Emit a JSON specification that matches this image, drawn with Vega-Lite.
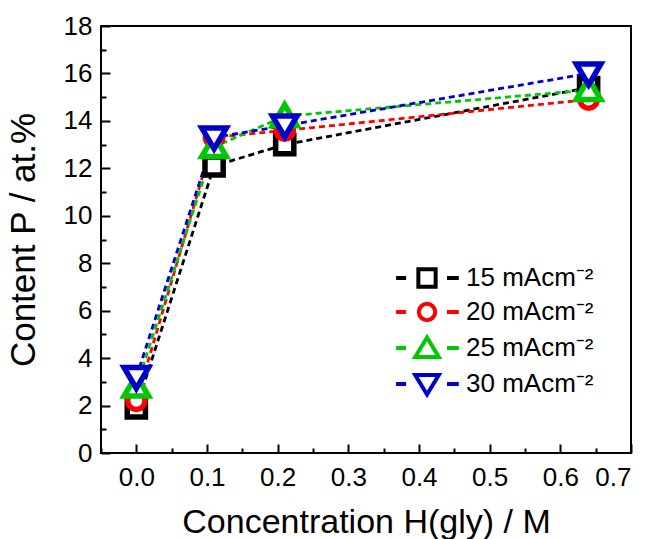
{
  "$schema": "https://vega.github.io/schema/vega-lite/v6.json",
  "width": 530,
  "height": 427,
  "autosize": {"type": "none"},
  "padding": {"left": 101, "top": 26, "right": 21, "bottom": 86},
  "background": "white",
  "config": {
    "view": {"stroke": "black", "strokeWidth": 2},
    "font": "Liberation Sans",
    "axis": {
      "domain": false,
      "tickColor": "black",
      "tickWidth": 2,
      "ticks": true,
      "grid": false,
      "labelColor": "black",
      "titleColor": "black",
      "labelFont": "Liberation Sans",
      "titleFont": "Liberation Sans",
      "titleFontWeight": "normal"
    }
  },
  "data": {
    "values": [
      {"x": 0.0, "y": 1.9, "series": "15 mAcm⁻²"},
      {"x": 0.11, "y": 12.1, "series": "15 mAcm⁻²"},
      {"x": 0.21, "y": 13.0, "series": "15 mAcm⁻²"},
      {"x": 0.64, "y": 15.4, "series": "15 mAcm⁻²"},
      {"x": 0.0, "y": 2.2, "series": "20 mAcm⁻²"},
      {"x": 0.11, "y": 13.3, "series": "20 mAcm⁻²"},
      {"x": 0.21, "y": 13.6, "series": "20 mAcm⁻²"},
      {"x": 0.64, "y": 14.9, "series": "20 mAcm⁻²"},
      {"x": 0.0, "y": 2.8, "series": "25 mAcm⁻²"},
      {"x": 0.11, "y": 12.9, "series": "25 mAcm⁻²"},
      {"x": 0.21, "y": 14.2, "series": "25 mAcm⁻²"},
      {"x": 0.64, "y": 15.3, "series": "25 mAcm⁻²"},
      {"x": 0.0, "y": 3.2, "series": "30 mAcm⁻²"},
      {"x": 0.11, "y": 13.3, "series": "30 mAcm⁻²"},
      {"x": 0.21, "y": 13.8, "series": "30 mAcm⁻²"},
      {"x": 0.64, "y": 16.0, "series": "30 mAcm⁻²"}
    ]
  },
  "encoding": {
    "x": {
      "field": "x", "type": "quantitative",
      "scale": {"domain": [-0.05, 0.7], "nice": false, "zero": false},
      "axis": {
        "title": "Concentration H(gly) / M",
        "values": [-0.05, 0, 0.05, 0.1, 0.15, 0.2, 0.25, 0.3, 0.35, 0.4, 0.45, 0.5, 0.55, 0.6, 0.65, 0.7],
        "labelExpr": "abs(round(datum.value*100)) % 10 == 0 ? format(datum.value, '.1f') : ''",
        "offset": -9,
        "tickSize": 9,
        "tickDash": {"condition": {"test": "abs(round(datum.value*100)) % 10 != 0", "value": [0, 4, 5, 20]}, "value": []},
        "labelFontSize": 26,
        "titleFontSize": 34,
        "labelPadding": 11,
        "titlePadding": 15
      }
    },
    "y": {
      "field": "y", "type": "quantitative",
      "scale": {"domain": [0, 18], "nice": false},
      "axis": {
        "title": "Content P / at.%",
        "values": [0, 1, 2, 3, 4, 5, 6, 7, 8, 9, 10, 11, 12, 13, 14, 15, 16, 17, 18],
        "labelExpr": "datum.value % 2 == 0 ? format(datum.value, 'd') : ''",
        "offset": -9,
        "tickSize": 9,
        "tickDash": {"condition": {"test": "datum.value % 2 != 0", "value": [0, 4, 5, 20]}, "value": []},
        "labelFontSize": 26,
        "titleFontSize": 35,
        "labelPadding": 9,
        "titlePadding": 22
      }
    }
  },
  "resolve": {"scale": {"stroke": "independent", "shape": "independent"}},
  "layer": [
    {
      "mark": {"type": "line", "strokeWidth": 2.8, "strokeDash": [6, 4]},
      "encoding": {
        "stroke": {
          "field": "series", "type": "nominal",
          "scale": {"domain": ["15 mAcm⁻²", "20 mAcm⁻²", "25 mAcm⁻²", "30 mAcm⁻²"], "range": ["#000000", "#FF0000", "#00C800", "#0000CC"]},
          "legend": null
        },
        "detail": {"field": "series"}
      }
    },
    {
      "mark": {"type": "point", "filled": false, "fill": "white", "fillOpacity": 1, "strokeWidth": 5.5, "size": 330, "opacity": 1},
      "encoding": {
        "stroke": {
          "field": "series", "type": "nominal",
          "scale": {"domain": ["15 mAcm⁻²", "20 mAcm⁻²", "25 mAcm⁻²", "30 mAcm⁻²"], "range": ["#000000", "#FF0000", "#00C800", "#0000CC"]},
          "legend": null
        },
        "shape": {
          "field": "series", "type": "nominal",
          "scale": {"domain": ["15 mAcm⁻²", "20 mAcm⁻²", "25 mAcm⁻²", "30 mAcm⁻²"], "range": ["M-1,-1H1V1H-1Z", "M-0.95,0A0.95,0.95 0 1,0 0.95,0A0.95,0.95 0 1,0 -0.95,0Z", "M0,-1.25L1.35,1.05H-1.35Z", "M0,1.25L1.35,-1.05H-1.35Z"]},
          "legend": null
        }
      }
    },
    {
      "transform": [{"filter": "false"}],
      "mark": {"type": "point", "filled": false, "fill": "white", "fillOpacity": 1, "strokeWidth": 4, "size": 330, "opacity": 1},
      "encoding": {
        "stroke": {
          "field": "series", "type": "nominal",
          "scale": {"domain": ["15 mAcm⁻²", "20 mAcm⁻²", "25 mAcm⁻²", "30 mAcm⁻²"], "range": ["#000000", "#FF0000", "#00C800", "#0000CC"]},
          "legend": {
            "title": null,
            "orient": "none",
            "legendX": 313,
            "legendY": 239,
            "labelFontSize": 26,
            "labelFont": "Liberation Sans",
            "labelColor": "black",
            "symbolSize": 330,
            "symbolStrokeWidth": 4,
            "symbolFillColor": "white",
            "symbolOpacity": 1,
            "rowPadding": 0,
            "labelOffset": 26
          }
        },
        "shape": {
          "field": "series", "type": "nominal",
          "scale": {"domain": ["15 mAcm⁻²", "20 mAcm⁻²", "25 mAcm⁻²", "30 mAcm⁻²"], "range": ["M-3.4,0H-2.3M2.2,0H3.5M-0.95,-0.95H0.95V0.95H-0.95Z", "M-3.4,0H-2.3M2.2,0H3.5M-0.9,0A0.9,0.9 0 1,0 0.9,0A0.9,0.9 0 1,0 -0.9,0Z", "M-3.4,0H-2.3M2.2,0H3.5M0,-1.15L1.3,1H-1.3Z", "M-3.4,0H-2.3M2.2,0H3.5M0,1.15L1.3,-1H-1.3Z"]},
          "legend": {
            "title": null,
            "orient": "none",
            "legendX": 313,
            "legendY": 239,
            "labelFontSize": 26,
            "labelFont": "Liberation Sans",
            "labelColor": "black",
            "symbolSize": 330,
            "symbolStrokeWidth": 4,
            "symbolFillColor": "white",
            "symbolOpacity": 1,
            "rowPadding": 0,
            "labelOffset": 26
          }
        }
      }
    }
  ]
}
